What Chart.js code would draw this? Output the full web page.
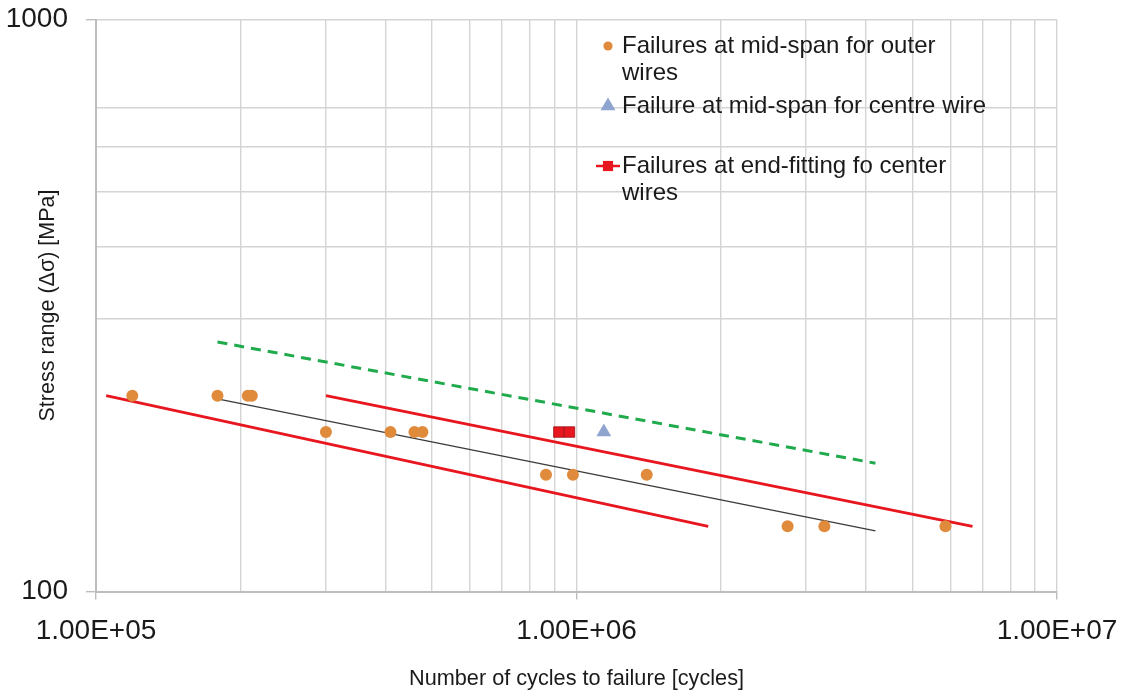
<!DOCTYPE html>
<html>
<head>
<meta charset="utf-8">
<script src="https://cdn.jsdelivr.net/npm/chart.js@4.4.1/dist/chart.umd.min.js"></script>
<style>
  html, body { margin: 0; padding: 0; background: #ffffff; }
  #wrap { width: 1129px; height: 692px; position: relative; }
</style>
</head>
<body>
<div id="wrap"><canvas id="sn" width="1129" height="692"></canvas></div>
<script>
// Axis ticks (log scales)
const xTickValues = [1e5, 2e5, 3e5, 4e5, 5e5, 6e5, 7e5, 8e5, 9e5,
                     1e6, 2e6, 3e6, 4e6, 5e6, 6e6, 7e6, 8e6, 9e6, 1e7];
const xTickLabels = { 100000: '1.00E+05', 1000000: '1.00E+06', 10000000: '1.00E+07' };
const yTickValues = [100, 300, 400, 500, 600, 700, 1000];
const yTickLabels = { 100: '100', 1000: '1000' };

// Test results: cycles to failure and stress range [MPa]
const outerCycles  = [1.19e5, 1.79e5, 2.07e5, 2.11e5, 3.01e5, 4.10e5, 4.60e5, 4.78e5,
                      8.64e5, 9.83e5, 1.40e6, 2.75e6, 3.28e6, 5.86e6];
const outerStress  = [220, 220, 220, 220, 190, 190, 190, 190, 160, 160, 160, 130, 130, 130];
const centreCycles = [1.14e6];
const centreStress = [190];
const endFitCycles = [9.19e5, 9.67e5];
const endFitStress = [190, 190];

// Fitted S-N curves (end points)
const lowerBoundCycles = [1.05e5, 1.88e6];
const lowerBoundStress = [220, 130];
const upperBoundCycles = [3.01e5, 6.67e6];
const upperBoundStress = [220, 130];
const meanCycles       = [1.80e5, 4.19e6];
const meanStress       = [217, 127.6];
const designCycles     = [1.79e5, 4.19e6];
const designStress     = [273, 167.6];

const pairs = (xs, ys) => xs.map((x, i) => ({ x: x, y: ys[i] }));

const COL_OUTER  = '#e08a3c';
const COL_CENTRE = '#8fa4cf';
const COL_RED    = '#e8161e';
const COL_GREEN  = '#1faa4c';
const GRID       = '#d4d4d4';
const AXIS       = '#bdbdbd';
const FONT       = '"Liberation Sans", Arial, sans-serif';

const legendEntries = [
  { lines: ['Failures at mid-span for outer', 'wires'], style: 'circle', radius: 4.6, fill: COL_OUTER, y: 46 },
  { lines: ['Failure at mid-span for centre wire'], style: 'triangle', radius: 8.6, fill: COL_CENTRE, y: 106 },
  { lines: ['Failures at end-fitting fo center', 'wires'], style: 'rect', radius: 7.2, fill: COL_RED, y: 166, withLine: true }
];

const legendPlugin = {
  id: 'sideLegend',
  afterDatasetsDraw(chart) {
    const ctx = chart.ctx;
    const mx = 608, tx = 622;
    ctx.save();
    ctx.font = '24px ' + FONT;
    ctx.textBaseline = 'middle';
    ctx.textAlign = 'left';
    legendEntries.forEach(e => {
      if (e.withLine) {
        ctx.strokeStyle = COL_RED;
        ctx.lineWidth = 2.5;
        ctx.beginPath();
        ctx.moveTo(mx - 12, e.y);
        ctx.lineTo(mx + 12, e.y);
        ctx.stroke();
      }
      ctx.fillStyle = e.fill;
      ctx.strokeStyle = e.fill;
      Chart.helpers.drawPoint(ctx, { pointStyle: e.style, radius: e.radius, rotation: 0, borderWidth: 0 }, mx, e.y);
      ctx.fillStyle = '#1a1a1a';
      e.lines.forEach((t, i) => ctx.fillText(t, tx, e.y + i * 27.5));
    });
    ctx.restore();
  }
};

new Chart(document.getElementById('sn'), {
  type: 'scatter',
  data: {
    datasets: [
      { label: 'Failures at end-fitting fo center wires', data: pairs(endFitCycles, endFitStress),
        pointStyle: 'rect', pointRadius: 7.4, backgroundColor: COL_RED, borderColor: '#9a1010', borderWidth: 0.8 },
      { label: 'Failure at mid-span for centre wire', data: pairs(centreCycles, centreStress),
        pointStyle: 'triangle', pointRadius: 8.6, backgroundColor: COL_CENTRE, borderWidth: 0 },
      { label: 'Failures at mid-span for outer wires', data: pairs(outerCycles, outerStress),
        pointStyle: 'circle', pointRadius: 6, backgroundColor: COL_OUTER, borderWidth: 0 },
      { label: 'Mean', data: pairs(meanCycles, meanStress), showLine: true,
        borderColor: '#3a3a3a', borderWidth: 1.2, pointRadius: 0 },
      { label: 'Lower', data: pairs(lowerBoundCycles, lowerBoundStress), showLine: true,
        borderColor: COL_RED, borderWidth: 2.8, pointRadius: 0 },
      { label: 'Upper', data: pairs(upperBoundCycles, upperBoundStress), showLine: true,
        borderColor: COL_RED, borderWidth: 2.8, pointRadius: 0 },
      { label: 'Design', data: pairs(designCycles, designStress), showLine: true,
        borderColor: COL_GREEN, borderWidth: 3, borderDash: [10, 7], pointRadius: 0 }
    ]
  },
  options: {
    responsive: false,
    animation: false,
    layout: { padding: { top: 19.5, right: 72, bottom: 0, left: 0 } },
    plugins: { legend: { display: false }, tooltip: { enabled: false } },
    scales: {
      x: {
        type: 'logarithmic', min: 1e5, max: 1e7,
        afterBuildTicks: s => { s.ticks = xTickValues.map(v => ({ value: v })); },
        afterFit: s => { s.height = 100.5; s.paddingLeft = 0; s.paddingRight = 0; },
        ticks: {
          autoSkip: false, maxRotation: 0, padding: 15,
          color: '#1a1a1a', font: { family: FONT, size: 28 },
          callback: v => xTickLabels[v] || ''
        },
        grid: {
          color: GRID, lineWidth: 1.4, tickLength: 8,
          tickColor: c => (xTickLabels[c.tick && c.tick.value] ? AXIS : 'rgba(0,0,0,0)')
        },
        border: { color: AXIS, width: 2 },
        title: {
          display: true, text: 'Number of cycles to failure [cycles]',
          color: '#1a1a1a', font: { family: FONT, size: 21.7 }, padding: { top: 0, bottom: 0 }
        }
      },
      y: {
        type: 'logarithmic', min: 100, max: 1000,
        afterBuildTicks: s => { s.ticks = yTickValues.map(v => ({ value: v })); },
        afterFit: s => { s.width = 96; s.paddingTop = 0; s.paddingBottom = 0; },
        ticks: {
          autoSkip: false, padding: 18,
          color: '#1a1a1a', font: { family: FONT, size: 28 },
          callback: v => yTickLabels[v] || ''
        },
        grid: {
          color: GRID, lineWidth: 1.4, tickLength: 10,
          tickColor: c => (yTickLabels[c.tick && c.tick.value] ? AXIS : 'rgba(0,0,0,0)')
        },
        border: { color: AXIS, width: 2 },
        title: {
          display: true, text: 'Stress range (Δσ) [MPa]',
          color: '#1a1a1a', font: { family: FONT, size: 21.5 }, padding: { top: 35, bottom: 0 }
        }
      }
    }
  },
  plugins: [legendPlugin]
});
</script>
</body>
</html>
